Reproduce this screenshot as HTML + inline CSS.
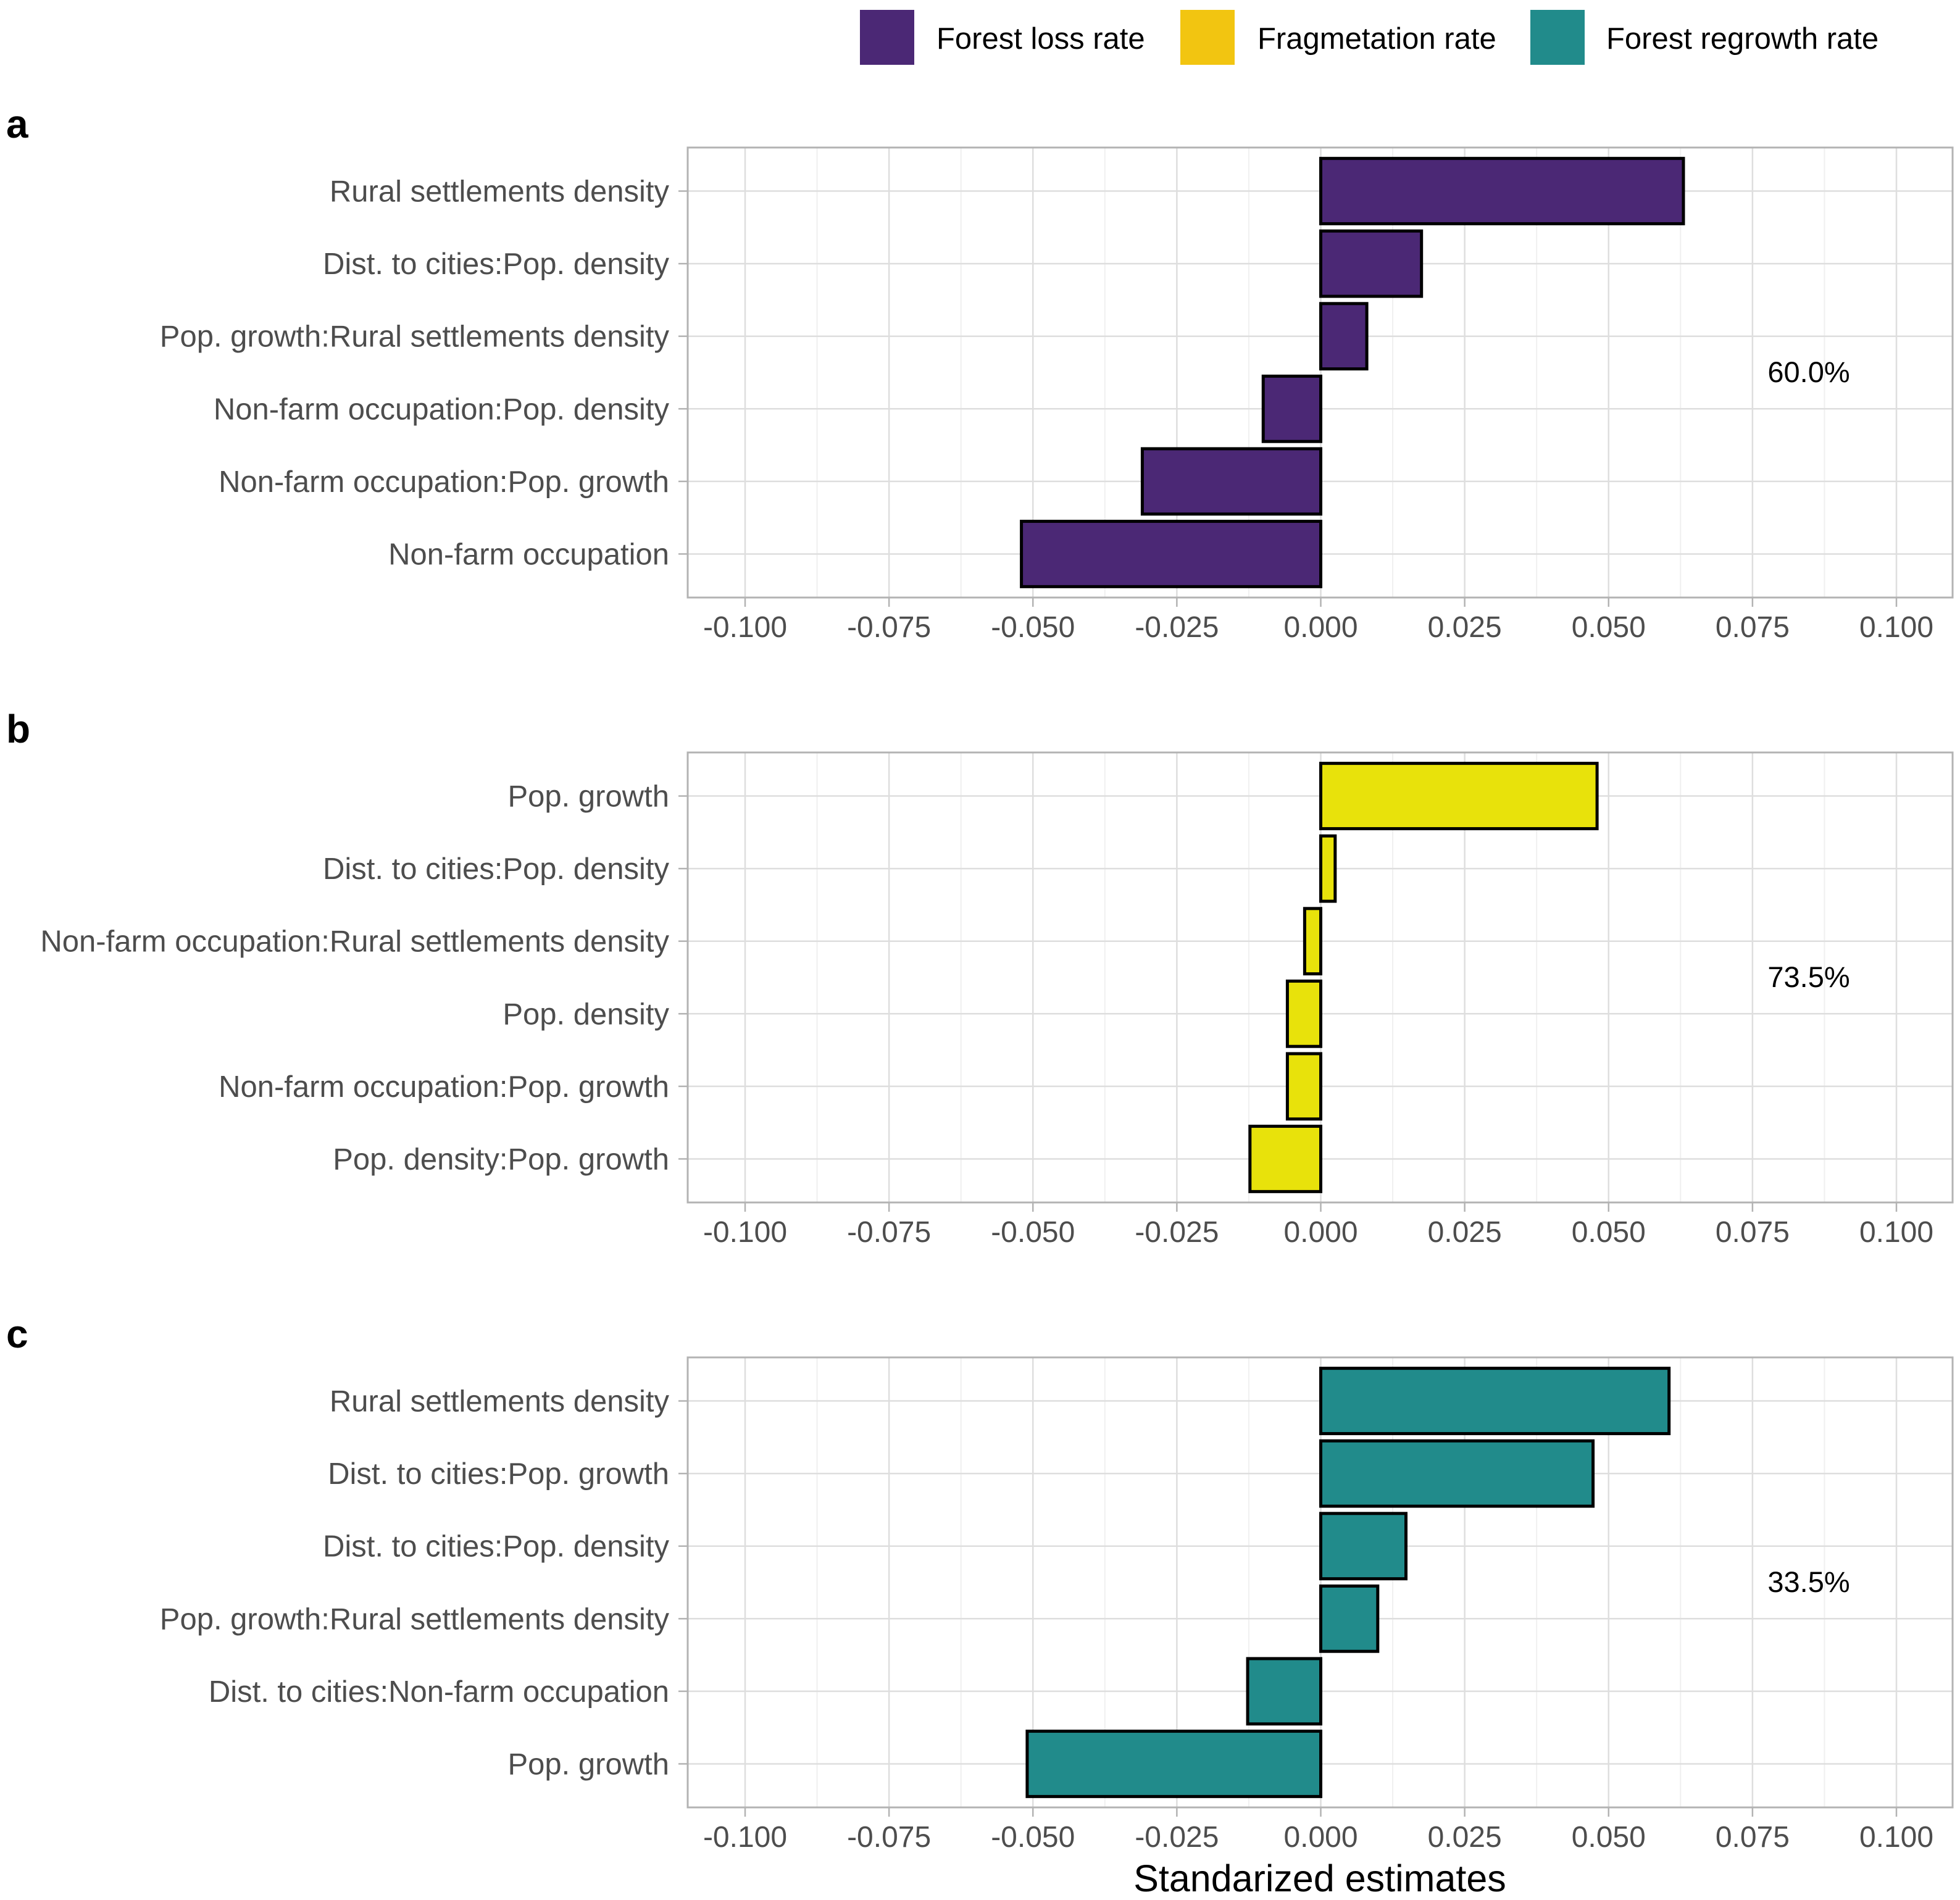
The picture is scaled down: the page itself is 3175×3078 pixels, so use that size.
<!DOCTYPE html>
<html><head><meta charset="utf-8"><style>
html,body{margin:0;padding:0;background:#fff;}
svg{display:block;font-family:"Liberation Sans",Arial,sans-serif;}
</style></head><body>
<svg id="fig" width="3175" height="3078" viewBox="0 0 3175 3078" xmlns="http://www.w3.org/2000/svg">
<g id="legend">
  <rect x="1393" y="16" width="88" height="89" fill="#4B2875"/>
  <text x="1517" y="79" font-size="49" fill="#000">Forest loss rate</text>
  <rect x="1912" y="16" width="88" height="89" fill="#F2C511"/>
  <text x="2037" y="79" font-size="49" fill="#000">Fragmetation rate</text>
  <rect x="2479" y="16" width="88" height="89" fill="#218B8B"/>
  <text x="2602" y="79" font-size="49" fill="#000">Forest regrowth rate</text>
</g>
<text x="2138" y="3064" font-size="61" text-anchor="middle" fill="#000">Standarized estimates</text>
</svg>
<script>
const xTicks = [-0.1,-0.075,-0.05,-0.025,0,0.025,0.05,0.075,0.1];
const xTickLabels = ["-0.100","-0.075","-0.050","-0.025","0.000","0.025","0.050","0.075","0.100"];
const catsA = ["Rural settlements density","Dist. to cities:Pop. density","Pop. growth:Rural settlements density","Non-farm occupation:Pop. density","Non-farm occupation:Pop. growth","Non-farm occupation"];
const valsA = [0.063,0.0175,0.008,-0.010,-0.031,-0.052];
const catsB = ["Pop. growth","Dist. to cities:Pop. density","Non-farm occupation:Rural settlements density","Pop. density","Non-farm occupation:Pop. growth","Pop. density:Pop. growth"];
const valsB = [0.048,0.0025,-0.0028,-0.0058,-0.0058,-0.0123];
const catsC = ["Rural settlements density","Dist. to cities:Pop. growth","Dist. to cities:Pop. density","Pop. growth:Rural settlements density","Dist. to cities:Non-farm occupation","Pop. growth"];
const valsC = [0.0605,0.0473,0.0148,0.0099,-0.0127,-0.051];
const panelLetters = ["a","b","c"];
const r2Labels = ["60.0%","73.5%","33.5%"];

const NS="http://www.w3.org/2000/svg";
const svg=document.getElementById('fig');
function mk(tag,attrs,parent){const e=document.createElementNS(NS,tag);for(const k in attrs)e.setAttribute(k,attrs[k]);parent.appendChild(e);return e;}
const X0=1114,X1=3163;
function xs(v){return 2139.5+v*9325;}
const panels=[{cats:catsA,vals:valsA,fill:"#4B2875",top:239},{cats:catsB,vals:valsB,fill:"#E8E20B",top:1219},{cats:catsC,vals:valsC,fill:"#218B8B",top:2199}];
panels.forEach((p,pi)=>{
  const H=729, bot=p.top+H;
  const step=H/6.2;
  const ys=i=>p.top+step*(0.6+i);
  const g=mk('g',{},svg);
  
  
  const lt=mk('text',{x:10,y:p.top-16,'font-size':64,'font-weight':'bold',fill:'#000'},g);
  lt.textContent=panelLetters[pi];
  
  
  for(let i=0;i<xTicks.length-1;i++){
    const x=xs((xTicks[i]+xTicks[i+1])/2);
    const l=mk('line',{x1:x,x2:x,y1:p.top,y2:bot,stroke:'#f0f0f0','stroke-width':2},g);
    
    
  }
  xTicks.forEach((t,i)=>{
    const x=xs(t);
    const l=mk('line',{x1:x,x2:x,y1:p.top,y2:bot,stroke:'#dedede','stroke-width':2.5},g);
    
    
    const tk=mk('line',{x1:x,x2:x,y1:bot,y2:bot+15,stroke:'#b3b3b3','stroke-width':2.5},g);
    
    
    const tl=mk('text',{x:x,y:bot+64,'font-size':48,'text-anchor':'middle',fill:'#4d4d4d'},g);
    tl.textContent=xTickLabels[i];
    
    
  });
  p.cats.forEach((c,i)=>{
    const y=ys(i);
    const l=mk('line',{x1:X0,x2:X1,y1:y,y2:y,stroke:'#dedede','stroke-width':2.5},g);
    
    
    const tk=mk('line',{x1:X0-15,x2:X0,y1:y,y2:y,stroke:'#b3b3b3','stroke-width':2.5},g);
    
    
    const tl=mk('text',{x:1084,y:y+17,'font-size':49,'text-anchor':'end',fill:'#4d4d4d'},g);
    tl.textContent=c;
    
    
  });
  p.vals.forEach((v,i)=>{
    const y=ys(i), h=step*0.9;
    const xa=xs(Math.min(0,v)), xb=xs(Math.max(0,v));
    const r=mk('rect',{x:xa,y:y-h/2,width:xb-xa,height:h,fill:p.fill,stroke:'#000','stroke-width':5},g);
    
    
  });
  const bd=mk('rect',{x:X0,y:p.top,width:X1-X0,height:H,fill:'none',stroke:'#b3b3b3','stroke-width':3},g);
  
  
  const pt=mk('text',{x:2930,y:p.top+380,'font-size':47,'text-anchor':'middle',fill:'#000'},g);
  pt.textContent=r2Labels[pi];
  
  
});
</script>
</body></html>
